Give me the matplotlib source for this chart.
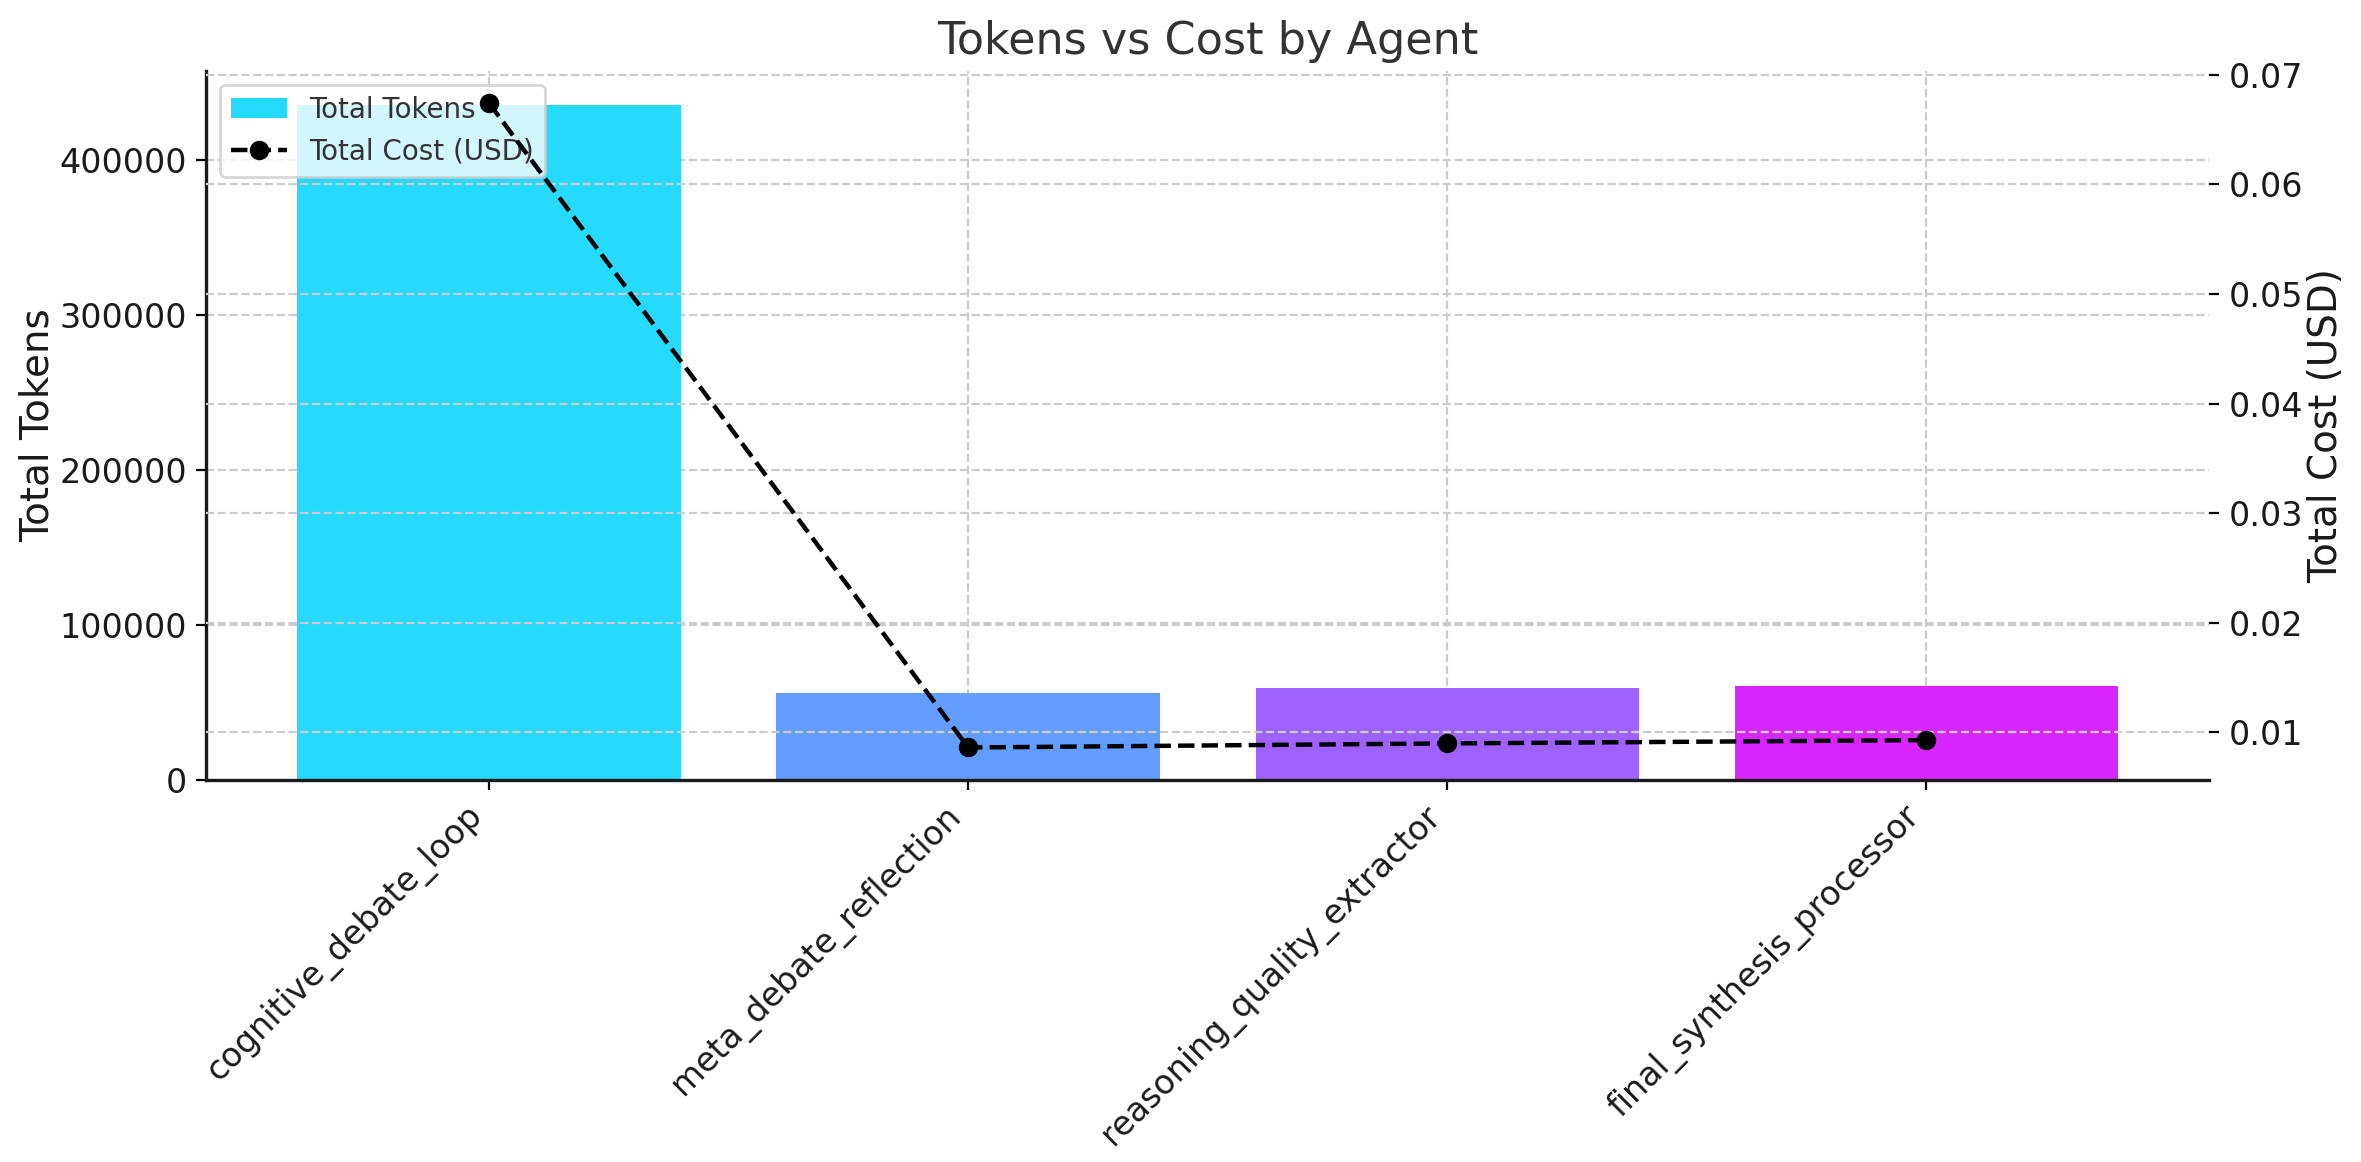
import matplotlib
matplotlib.use("Agg")
import matplotlib.pyplot as plt
import numpy as np

agents = ["cognitive_debate_loop", "meta_debate_reflection",
          "reasoning_quality_extractor", "final_synthesis_processor"]
total_tokens = [436000, 56300, 59200, 60200]
total_cost = [0.0674, 0.00863, 0.0090, 0.0093]
title = "Tokens vs Cost by Agent"

plt.rcParams['font.family'] = ['DejaVu Sans']

fig = plt.figure(figsize=(11.805, 5.81), dpi=200)
ax = fig.add_axes([0.0874, 0.329, 0.8482, 0.61])

x = np.arange(len(agents))
colors = plt.cm.cool(np.linspace(0.15, 0.85, len(agents)))
bars = ax.bar(x, total_tokens, color=colors, width=0.8, label="Total Tokens", zorder=1)
ax.set_xticks(x)
ax.set_xticklabels(agents, rotation=45, ha="right", fontsize=12, color="#1a1a1a")
ax.set_ylabel("Total Tokens", fontsize=14, color="#1a1a1a", labelpad=1)
ax.tick_params(axis='y', labelsize=12, labelcolor="#1a1a1a")
ax.grid(True, linestyle='--', color='#cccccc', linewidth=0.8)
ax.set_axisbelow(True)
for s in ['top', 'right']:
    ax.spines[s].set_visible(False)
for s in ['left', 'bottom']:
    ax.spines[s].set_linewidth(1.2)
    ax.spines[s].set_color('#1a1a1a')

ax2 = ax.twinx()
line, = ax2.plot(x, total_cost, color='black', linestyle='--', marker='o',
                 linewidth=1.6, markersize=6, label="Total Cost (USD)")
ax2.set_ylabel("Total Cost (USD)", fontsize=14, color="#1a1a1a", labelpad=1.5)
ax2.tick_params(axis='y', labelsize=12, labelcolor="#1a1a1a")
ax2.grid(True, linestyle='--', color='#cccccc', linewidth=0.8)
for s in ['top', 'right', 'left', 'bottom']:
    ax2.spines[s].set_visible(False)

ax.set_title(title, fontsize=16, color="#333333")

leg = ax.legend([bars, line], ["Total Tokens", "Total Cost (USD)"], loc="upper left",
                fontsize=10, framealpha=0.8, edgecolor='#cccccc')
for t in leg.get_texts():
    t.set_color("#333333")
leg.set_zorder(5)

fig.savefig("out.png", dpi=200)
